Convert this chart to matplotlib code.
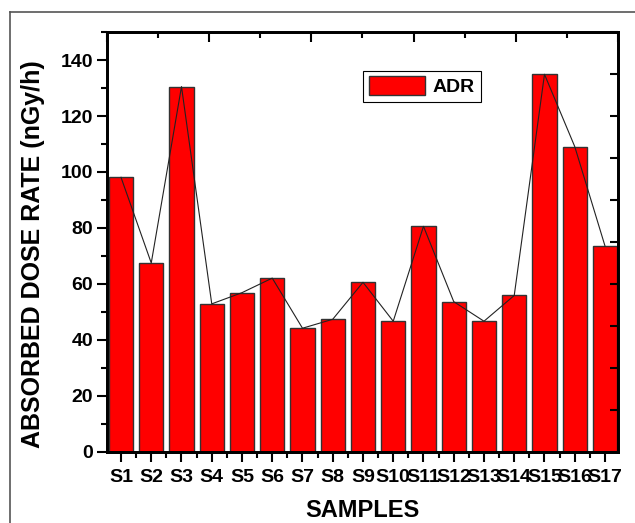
import numpy as np
import matplotlib
matplotlib.use("Agg")
import matplotlib.pyplot as plt
from matplotlib.lines import Line2D
from matplotlib.ticker import MultipleLocator

plt.rcParams['font.family'] = ['Liberation Sans', 'DejaVu Sans']
plt.rcParams['font.weight'] = 'bold'

# data
samples = ['S1', 'S2', 'S3', 'S4', 'S5', 'S6', 'S7', 'S8', 'S9', 'S10',
           'S11', 'S12', 'S13', 'S14', 'S15', 'S16', 'S17']
adr = [98.1, 67.5, 130.5, 52.9, 56.9, 62.1, 44.2, 47.4, 60.6, 46.7,
       80.6, 53.7, 46.7, 55.9, 134.9, 109.1, 73.6]

fig = plt.figure(figsize=(6.35, 5.23), dpi=100)
ax = fig.add_axes([0.1685, 0.1358, 0.8047, 0.803])

x = np.arange(1, len(samples) + 1)
ax.bar(x, adr, width=0.8, color='#ff0000', edgecolor='#333333', linewidth=1.0,
       label='ADR', zorder=2)
ax.plot(x, adr, color='#222222', linewidth=0.8, zorder=3)

ax.set_xlim(0.537, 17.43)
ax.set_ylim(0, 150)
ax.set_xticks(x)
ax.set_xticklabels(samples)
ax.xaxis.set_minor_locator(MultipleLocator(0.5))
ax.set_yticks([0, 20, 40, 60, 80, 100, 120, 140])
ax.yaxis.set_minor_locator(MultipleLocator(10))
ax.tick_params(axis='both', which='major', direction='out', length=7, width=1.5,
               labelsize=14)
ax.tick_params(axis='x', which='major', pad=5)
ax.tick_params(axis='y', which='major', pad=3)
ax.tick_params(axis='both', which='minor', direction='out', length=4, width=1.5)
for lab in ax.get_xticklabels() + ax.get_yticklabels():
    lab.set_fontweight('bold')
for s in ax.spines.values():
    s.set_linewidth(1.8)

ax.set_xlabel('SAMPLES', fontsize=17, fontweight='bold')
ax.set_ylabel('ABSORBED DOSE RATE (nGy/h)', fontsize=18, fontweight='bold')
ax.xaxis.set_label_coords(0.5, -0.112)
ax.yaxis.set_label_coords(-0.122, 0.47)

# top and right axes with inward ticks, no labels
top = ax.twiny()
top.set_xlim(0, 10)
top.xaxis.set_major_locator(MultipleLocator(2))
top.xaxis.set_minor_locator(MultipleLocator(1))
top.tick_params(axis='x', which='major', direction='in', length=7, width=1.5, labeltop=False)
top.tick_params(axis='x', which='minor', direction='in', length=4, width=1.5)

right = ax.twinx()
right.set_ylim(0, 150)
right.yaxis.set_major_locator(MultipleLocator(15))
right.tick_params(axis='y', which='major', direction='in', length=6, width=1.5, labelright=False)
for a in (top, right):
    for s in a.spines.values():
        s.set_linewidth(1.8)

leg = ax.legend(loc='upper left', bbox_to_anchor=(0.501, 0.908), fontsize=14,
                frameon=True, fancybox=False, edgecolor='black', framealpha=1,
                handlelength=2.9, handleheight=1.1, handletextpad=0.4,
                borderpad=0.3, borderaxespad=0)
leg.get_frame().set_linewidth(0.8)
for t in leg.get_texts():
    t.set_fontweight('bold')

# outer frame lines of the original page
fig.add_artist(Line2D([10 / 635, 10 / 635], [0, 1 - 12 / 523], color='#555555', lw=1.2))
fig.add_artist(Line2D([10 / 635, 1], [1 - 12 / 523, 1 - 12 / 523], color='#555555', lw=1.2))

fig.savefig('out.png', dpi=100)
